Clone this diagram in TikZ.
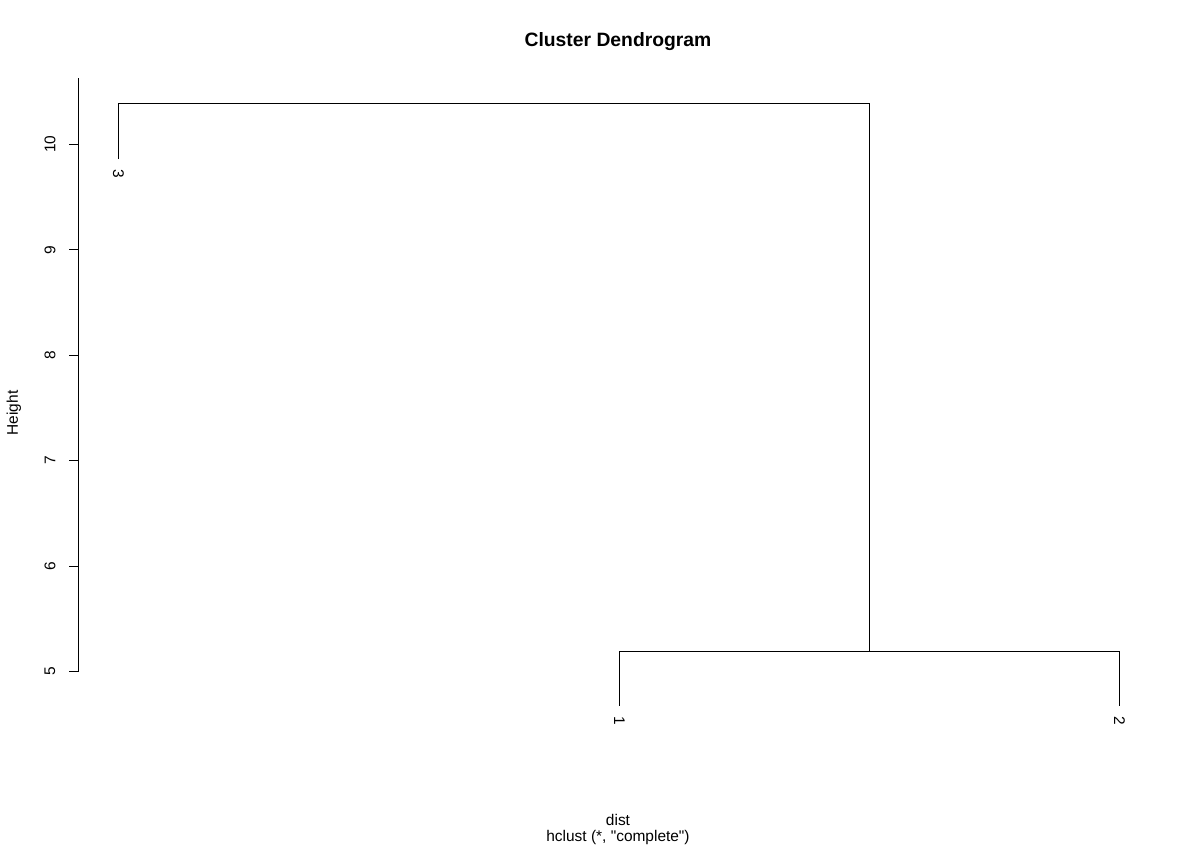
\documentclass[tikz,border=0pt]{standalone}
\usepackage{fontspec}
\setmainfont{Liberation Sans}
\newfontfamily\plainsans{Liberation Sans}
\usetikzlibrary{calc}

\begin{document}
\begin{tikzpicture}[x=0.02cm, y=-0.02cm,
        branch/.style={black, line width=0.6pt},
        leaflabel/.style={rotate=-90, anchor=west, inner sep=0pt, font=\fontsize{8.8}{10}\selectfont},
        ticklabel/.style={rotate=90, inner sep=0pt, font=\fontsize{8.8}{10}\selectfont},
        plaintext/.style={inner sep=0pt, font=\plainsans\fontsize{8.8}{10}\selectfont}]
        \useasboundingbox (0,0) rectangle (1200,849);

        % tree
        \coordinate (leafthree) at (118.5,159);
        \coordinate (leafone) at (619.5,705.7);
        \coordinate (leaftwo) at (1119.5,705.7);
        \coordinate (mergeonetwo) at (869.5,651.5);
        \coordinate (top) at (494,103.5);

        \draw[branch] (leafone) |- (mergeonetwo) -| (leaftwo);
        \draw[branch] (leafthree) |- (top) -| (mergeonetwo);

        \node[leaflabel] (labthree) at ($(leafthree)+(0,10)$) {3};
        \node[leaflabel] (labone) at ($(leafone)+(0,10)$) {1};
        \node[leaflabel] (labtwo) at ($(leaftwo)+(0,10)$) {2};

        % axis
        \draw[branch] (78.5,78.3) -- (78.5,671.5);
        \draw[branch] (69,671.5) -- (78.5,671.5);
        \draw[branch] (69,566.5) -- (78.5,566.5);
        \draw[branch] (69,460.5) -- (78.5,460.5);
        \draw[branch] (69,355.5) -- (78.5,355.5);
        \draw[branch] (69,249.5) -- (78.5,249.5);
        \draw[branch] (69,144.5) -- (78.5,144.5);

        \node[ticklabel] (tickfive) at (50,671.3) {5};
        \node[ticklabel] (ticksix) at (50,565.9) {6};
        \node[ticklabel] (tickseven) at (50,460.5) {7};
        \node[ticklabel] (tickeight) at (50,355.1) {8};
        \node[ticklabel] (ticknine) at (50,249.7) {9};
        \node[ticklabel] (tickten) at (50,144.3) {10};

        \node[ticklabel] (ylab) at (14,413) {Height};
        \node[plaintext] (xlab) at (618,820) {dist};
        \node[plaintext] (sublab) at (618,837) {hclust (*, "complete")};
        \node[inner sep=0pt, font=\fontsize{11}{13}\selectfont\bfseries] (title) at (618,42) {Cluster Dendrogram};
    \end{tikzpicture}
\end{document}
